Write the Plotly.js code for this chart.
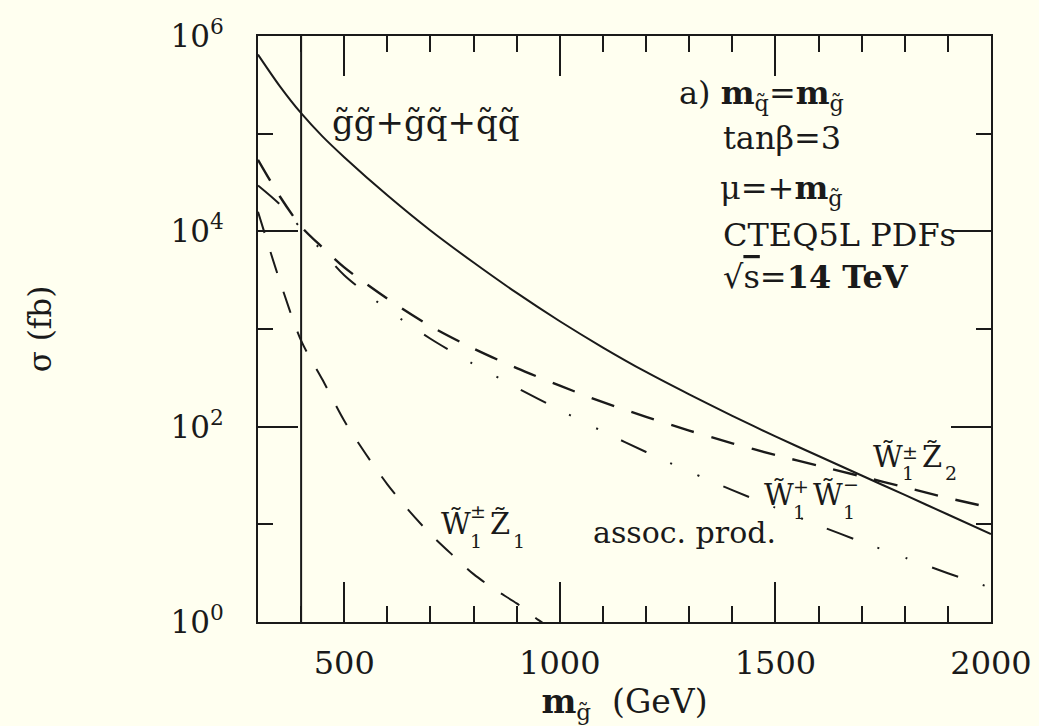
<!DOCTYPE html>
<html>
<head>
<meta charset="utf-8">
<script src="https://cdn.plot.ly/plotly-3.0.1.min.js"></script>
<style>html,body{margin:0;padding:0;background:#fffff0;}</style>
</head>
<body>
<div id="chart" style="width:1039px;height:726px;"></div>
<script>
// ---- data ----
const mGluino = [300,350,400,450,500,600,700,800,900,1000,1100,1200,1300,1400,1500,1600,1700,1800,1900,2000];
const sigmaStrong = [645000,309000,162000,93300,57500,23400,10200,4790,2340,1200,646,363,214,129,79.4,50.1,31.6,20.0,12.6,7.94];
const sigmaW1Z2   = [54000,23000,11200,6800,4270,2040,1070,631,398,263,178,126,91.2,67.6,51.3,39.8,30.9,24.0,18.6,14.8];
const sigmaW1W1   = [29500,19000,10700,6200,3550,1590,794,437,251,148,89.1,55.0,34.7,22.4,14.8,9.77,6.61,4.57,3.16,2.24];
const mGluinoZ1   = [300,350,400,450,500,550,600,650,700,750,800,850,900,950,1000];
const sigmaW1Z1   = [15850,3160,760,300,115,52.5,25.7,13.8,7.94,4.9,3.09,2.14,1.55,1.05,0.76];
const xTickVals = [500,1000,1500,2000];
const yTickVals = [1,100,10000,1000000];
const yTickText = ['10<sup>0</sup>','10<sup>2</sup>','10<sup>4</sup>','10<sup>6</sup>'];
const yMinorVals = [10,1000,100000];
const cutMass = 400;

// ---- layout helpers (pixel -> paper) ----
const L=258, R=991, T=36, B=622;
const px = x => (x-L)/(R-L);
const py = y => (B-y)/(B-T);
const FONT = 'DejaVu Serif';
const INK = '#1a1a1a';

const traces = [
  {x:mGluino, y:sigmaStrong, mode:'lines', line:{color:INK, width:2, shape:'spline', smoothing:0.8}},
  {x:mGluino, y:sigmaW1Z2, mode:'lines', line:{color:INK, width:2.4, dash:'24px,18px', shape:'spline', smoothing:0.8}},
  {x:mGluino, y:sigmaW1W1, mode:'lines', line:{color:INK, width:2, dash:'28px,26px,2px,28px,2px,26px', shape:'spline', smoothing:0.8}},
  {x:mGluinoZ1, y:sigmaW1Z1, mode:'lines', line:{color:INK, width:2, dash:'22px,20px', shape:'spline', smoothing:0.8}}
];

function ann(x,y,text,size){
  return {xref:'paper', yref:'paper', x:px(x), y:py(y), text:text, showarrow:false, borderpad:0,
          xanchor:'left', yanchor:'middle', font:{family:FONT, size:size||28, color:INK}};
}
// particle label with stacked superscript/subscript: base, sup over sub, base2, sub2
function stacked(x, y, base, sup, sub, xs, base2, xb2, sub2, xs2, supDy, subDy){
  return [
    ann(x, y, base, 29),
    ann(xs, y+supDy, sup, 19),
    ann(xs, y+subDy, sub, 19),
    ann(xb2, y, base2, 29),
    ann(xs2, y+subDy, sub2, 19)
  ];
}

const annotations = [
  ann(331,122,'g̃g̃+g̃q̃+q̃q̃',34),
  ann(678,95,'a) <b>m</b><sub>q̃</sub>=<b>m</b><sub>g̃</sub>',32),
  ann(722,138,'tanβ=3',32),
  ann(719,190,'μ=+<b>m</b><sub>g̃</sub>',32),
  ann(722,235,'CTEQ5L PDFs',32),
  ann(722,277,'√<span style="text-decoration:overline">s</span>=<b>14 TeV</b>',32),
  ann(592,532,'assoc. prod.',30)
].concat(
  stacked(440,524,'W̃','±','1',469,'Z̃',489,'1',512,-13,17),
  [ann(763,495,'W̃',29), ann(792,486,'+',19), ann(792,512,'1',19),
   ann(812,495,'W̃',29), ann(842,484,'−',19), ann(842,512,'1',19)],
  stacked(872,457,'W̃','±','1',901,'Z̃',921,'2',944,-5,16)
);

const layout = {
  width:1039, height:726,
  paper_bgcolor:'#fffff0', plot_bgcolor:'#fffff0',
  margin:{l:L, r:1039-R, t:T, b:726-B},
  showlegend:false,
  font:{family:FONT, size:30, color:INK},
  xaxis:{
    range:[300,2000], showgrid:false, zeroline:false,
    showline:true, linewidth:2, linecolor:INK, mirror:'ticks',
    ticks:'inside', ticklen:40, tickwidth:2, tickcolor:INK,
    tickmode:'array', tickvals:xTickVals,
    ticklabelstandoff:12,
    tickfont:{family:FONT, size:32, color:INK},
    minor:{dtick:100, ticks:'inside', ticklen:16, tickwidth:2, tickcolor:INK, showgrid:false},
    title:{text:'<b>m</b><sub>g̃</sub>  (GeV)', font:{family:FONT, size:33, color:INK}, standoff:4}
  },
  yaxis:{
    type:'log', range:[0,6], showgrid:false, zeroline:false,
    showline:true, linewidth:2, linecolor:INK, mirror:'ticks',
    ticks:'inside', ticklen:40, tickwidth:2, tickcolor:INK,
    tickmode:'array', tickvals:yTickVals, ticktext:yTickText,
    ticklabelstandoff:26,
    tickfont:{family:FONT, size:31, color:INK},
    minor:{tickmode:'array', tickvals:yMinorVals, ticks:'inside', ticklen:15, tickwidth:2, tickcolor:INK, showgrid:false},
    title:{text:'σ (fb)', font:{family:FONT, size:31, color:INK}, standoff:110}
  },
  shapes:[
    {type:'line', xref:'x', yref:'paper', x0:cutMass, x1:cutMass, y0:0, y1:1, line:{color:INK, width:2}}
  ],
  annotations:annotations
};

Plotly.newPlot('chart', traces, layout, {staticPlot:true, displayModeBar:false});
</script>
</body>
</html>
